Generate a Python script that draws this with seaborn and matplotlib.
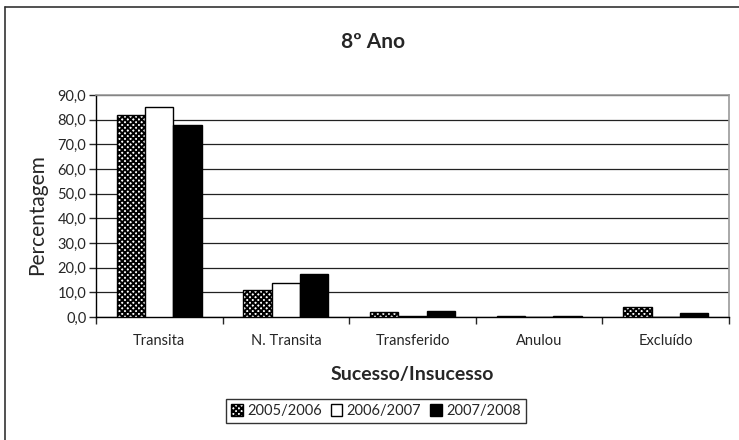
import numpy as np
import pandas as pd
import matplotlib
matplotlib.use("Agg")
import matplotlib.pyplot as plt
import seaborn as sns
from matplotlib.patches import Patch
from matplotlib.ticker import FuncFormatter, FixedLocator

# ── data ──────────────────────────────────────────────────────────────────────
categories = ["Transita", "N. Transita", "Transferido", "Anulou", "Excluído"]
years = ["2005/2006", "2006/2007", "2007/2008"]
v_2005 = [81.9, 10.9, 2.1, 0.5, 3.9]
v_2006 = [85.1, 13.9, 0.4, 0.0, 0.0]
v_2007 = [77.8, 17.4, 2.3, 0.5, 1.7]

df = pd.DataFrame({
    "categoria": categories * 3,
    "ano": [years[0]] * 5 + [years[1]] * 5 + [years[2]] * 5,
    "pct": v_2005 + v_2006 + v_2007,
})

sns.set_style("white")
plt.rcParams["font.family"] = ["Lato", "DejaVu Sans"]
plt.rcParams["hatch.linewidth"] = 1.4

fig = plt.figure(figsize=(7.39, 4.40), dpi=100)
ax = fig.add_axes([96 / 739, 1 - 317 / 440, 633 / 739, 222 / 440])

sns.barplot(data=df, x="categoria", y="pct", hue="ano", order=categories,
            hue_order=years, palette=["white", "white", "black"],
            width=0.67, edgecolor="black", linewidth=1.0, saturation=1,
            legend=False, ax=ax, zorder=3)

# checkerboard-ish pattern for the first series
for bar in ax.containers[0]:
    bar.set_hatch("xxxxxx")

ax.set_ylim(0, 90)
ax.set_xlim(-0.5, 4.5)
ax.set_yticks(np.arange(0, 91, 10))
ax.yaxis.set_major_formatter(FuncFormatter(lambda v, p: f"{v:.1f}".replace(".", ",")))
ax.yaxis.grid(True, color="#222222", linewidth=0.9, zorder=0)
ax.set_axisbelow(True)

for side in ["top", "right"]:
    ax.spines[side].set_color("#999999")
    ax.spines[side].set_linewidth(1.2)
for side in ["left", "bottom"]:
    ax.spines[side].set_color("black")
    ax.spines[side].set_linewidth(1.0)

ax.tick_params(axis="y", left=True, length=5, width=1, labelsize=10.5, pad=2)
ax.tick_params(axis="x", which="major", bottom=False, labelsize=10.5, pad=9)
ax.xaxis.set_minor_locator(FixedLocator(np.arange(-0.5, 5, 1)))
ax.tick_params(axis="x", which="minor", bottom=True, length=5, width=1)

ax.set_xlabel("Sucesso/Insucesso", fontsize=14, fontweight="bold", labelpad=13)
ax.set_ylabel("Percentagem", fontsize=15)
ax.yaxis.set_label_coords(-0.077, 0.46)
fig.text(373 / 739, 1 - 42 / 440, "8º Ano", ha="center", va="center",
         fontsize=15, fontweight="bold")

handles = [Patch(facecolor="white", edgecolor="black", hatch="xxxxxx", label=years[0]),
           Patch(facecolor="white", edgecolor="black", label=years[1]),
           Patch(facecolor="black", edgecolor="black", label=years[2])]
leg = fig.legend(handles=handles, loc="center", bbox_to_anchor=(376 / 739, 1 - 411 / 440),
                 ncol=3, frameon=True, fancybox=False, fontsize=10.5,
                 handlelength=0.8, handleheight=0.8, handletextpad=0.3,
                 columnspacing=0.6, borderpad=0.35)
leg.get_frame().set_edgecolor("black")
leg.get_frame().set_linewidth(1.0)

# outer chart frame (top and left edges visible)
fig.add_artist(plt.Line2D([5 / 739, 5 / 739], [0, 1 - 7 / 440], color="#333333", lw=1.2))
fig.add_artist(plt.Line2D([5 / 739, 1], [1 - 7 / 440, 1 - 7 / 440], color="#333333", lw=1.2))

fig.savefig("out.png", dpi=100)
